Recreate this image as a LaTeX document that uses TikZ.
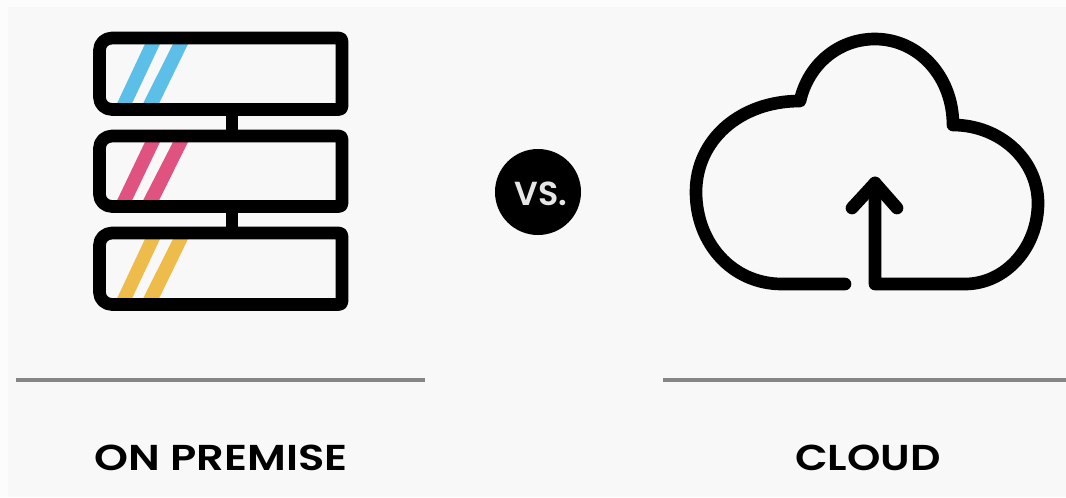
\documentclass[tikz,border=0pt]{standalone}
\usepackage{fontspec}
\setmainfont{Poppins}[BoldFont={Poppins SemiBold}]
\definecolor{panel}{HTML}{F8F8F8}
\definecolor{edge}{HTML}{FCFCFC}
\definecolor{rack blue}{HTML}{5CBFE8}
\definecolor{rack pink}{HTML}{E0527F}
\definecolor{rack yellow}{HTML}{EDBC4A}
\definecolor{rule gray}{HTML}{858585}
\definecolor{badge text}{HTML}{E6E6E6}
\tikzset{
  rackbox/.style={draw=black,line width=9.5pt,line join=round},
  ruleline/.style={draw=rule gray,line width=2.4pt},
  cloudline/.style={draw=black,line width=9.5pt,line cap=round,line join=round},
  biglabel/.style={inner sep=0pt,font=\bfseries\fontsize{27}{27}\selectfont,text=black,anchor=center},
}
\newcommand{\rackunit}[4]{% top, bottom, colour, name
  \fill[#3] (117,{#2-6}) -- (145,{#1+6}) -- (160,{#1+6}) -- (132,{#2-6}) -- cycle;
  \fill[#3] (143,{#2-6}) -- (173,{#1+6}) -- (188,{#1+6}) -- (159,{#2-6}) -- cycle;
  \draw[rackbox] (112,#1) -- (339,#1) to[out=0,in=90] (342,{#1+3}) -- (342,{#2-3}) to[out=-90,in=0] (339,#2)
     -- (112,#2) to[out=180,in=-90] (99.5,{#2-12}) -- (99.5,{#1+12}) to[out=90,in=180] cycle;
  \coordinate (#4top) at (232,#1);
  \coordinate (#4bot) at (232,#2);
}
\begin{document}
\begin{tikzpicture}[x=0.75pt,y=-0.75pt]
\useasboundingbox (0,0) rectangle (1066,497);
\fill[edge] (0,0) rectangle (1066,497);
\fill[panel] (8,7) rectangle (1066,497);
\rackunit{38}{109.5}{rack blue}{a}
\rackunit{136}{206.5}{rack pink}{b}
\rackunit{233}{304.5}{rack yellow}{c}
\draw[black,line width=9.5pt] (abot) -- (btop);
\draw[black,line width=9.5pt] (bbot) -- (ctop);
\node[circle,fill=black,minimum size=64.5pt,inner sep=0pt] (vs) at (538,192) {};
\node[inner sep=0pt,text=badge text,font=\bfseries\fontsize{25}{25}\selectfont] (vslabel) at (541,194) {VS.};
\draw[cloudline] (845,284) -- (782,284)
  .. controls (732,284) and (696,243) .. (696,192)
  .. controls (696,140) and (740,101) .. (800,101)
  .. controls (808,65) and (838,39) .. (875,39)
  .. controls (918,39) and (953,76) .. (953,125)
  .. controls (1000,125) and (1038,160) .. (1038,203)
  .. controls (1038,248) and (1005,284) .. (965,284)
  -- (875,284) -- (875,183);
\draw[cloudline] (852,208) -- (875,183) -- (897,208);
\coordinate (r1a) at (16,380);
\coordinate (r1b) at (425,380);
\coordinate (r2a) at (663,380);
\coordinate (r2b) at (1066,380);
\draw[ruleline] (r1a) -- (r1b);
\draw[ruleline] (r2a) -- (r2b);
\node[biglabel] (onprem) at (221,458) {\scalebox{1.2}[1]{ON PREMISE}};
\node[biglabel] (cloud) at (868,458) {\scalebox{1.18}[1]{CLOUD}};
\end{tikzpicture}
\end{document}
